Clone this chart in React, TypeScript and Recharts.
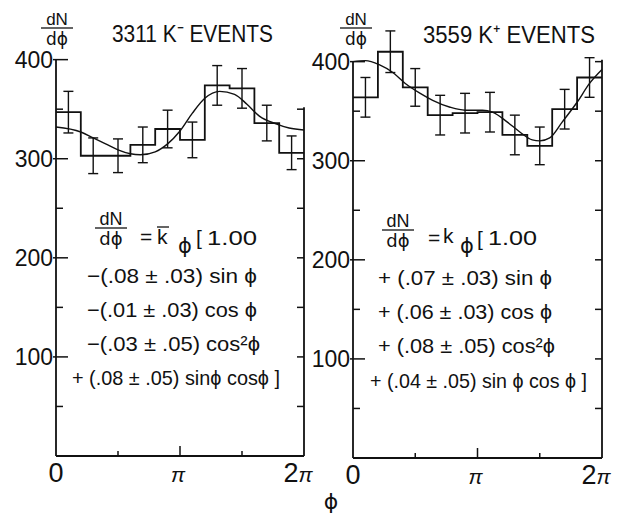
import React from "react";
import {
  ComposedChart,
  Line,
  Scatter,
  ErrorBar,
  XAxis,
  YAxis,
  ReferenceLine,
} from "recharts";

const TWO_PI = 2 * Math.PI;
const FONT = "'Liberation Sans', Arial, sans-serif";
const PHI_FONT = "'DejaVu Sans', sans-serif";
const INK = "#111";

// bin edges and centres, as fractions of 2π (10 equal bins)
const binEdges = [0, 0.1, 0.2, 0.3, 0.4, 0.5, 0.6, 0.7, 0.8, 0.9, 1];
const binCenters = [0.05, 0.15, 0.25, 0.35, 0.45, 0.55, 0.65, 0.75, 0.85, 0.95];

// K- panel
const kMinusCounts = [347, 303, 303, 314, 330, 319, 374, 371, 336, 306];
const kMinusErrors = [21, 18, 17, 18, 19, 18, 20, 20, 18, 17];
const kMinusCurveFrac = [0, 0.1, 0.15, 0.2, 0.25, 0.3, 0.34, 0.4, 0.45, 0.5, 0.55, 0.6, 0.66, 0.72, 0.77, 0.82, 0.89, 0.94, 1];
const kMinusCurve = [332, 327, 321, 315, 309, 305, 304, 307, 315, 328, 346, 361, 368, 365, 355, 343, 335, 331, 329];

// K+ panel
const kPlusCounts = [364, 410, 374, 346, 348, 349, 326, 315, 352, 384];
const kPlusErrors = [20, 21, 19, 20, 20, 20, 20, 19, 20, 20];
const kPlusCurveFrac = [0, 0.05, 0.105, 0.16, 0.21, 0.27, 0.32, 0.39, 0.45, 0.52, 0.56, 0.62, 0.67, 0.72, 0.75, 0.79, 0.84, 0.9, 0.95, 1];
const kPlusCurve = [400, 401, 397, 389, 378, 368, 361, 354, 351, 351, 349, 339, 329, 321, 320, 323, 339, 359, 378, 392];

const yTicks = [50, 100, 150, 200, 250, 300, 350, 400];
const xTicks = [0, Math.PI / 2, Math.PI, (3 * Math.PI) / 2, TWO_PI];

function LeftTick(props: any) {
  const { x, y, payload } = props;
  const v = payload.value;
  const major = v % 100 === 0;
  return (
    <g>
      {major && (
        <text x={x - 3} y={y + 8} textAnchor="end" fontSize={23} fontFamily={FONT} fill={INK}>
          {v}
        </text>
      )}
      <line x1={major ? x - 3 : x} x2={major ? x + 12 : x + 7} y1={y} y2={y} stroke={INK} strokeWidth={1.5} />
    </g>
  );
}

function makeRightTick(maxV: number) {
  return (props: any) => {
    const { x, y, payload } = props;
    if (payload.value > maxV) return <g />;
    return <line x1={x - 7} x2={x} y1={y} y2={y} stroke={INK} strokeWidth={1.5} />;
  };
}

function BottomTick(props: any) {
  const { x, y, payload } = props;
  const idx = xTicks.findIndex((t) => Math.abs(t - payload.value) < 1e-6);
  const len = idx === 1 || idx === 3 ? 5 : idx === 2 ? 10 : 0;
  return (
    <g fill={INK} fontFamily={FONT}>
      {len > 0 && <line x1={x} x2={x} y1={y} y2={y - len} stroke={INK} strokeWidth={1.5} />}
      {idx === 0 && (
        <text x={x} y={y + 26} textAnchor="middle" fontSize={27}>0</text>
      )}
      {idx === 2 && (
        <text x={x - 2} y={y + 26} textAnchor="middle" fontSize={21} fontStyle="italic">π</text>
      )}
      {idx === 4 && (
        <text x={x - 6} y={y + 26} textAnchor="middle" fontSize={27}>
          2<tspan fontSize={21} fontStyle="italic">π</tspan>
        </text>
      )}
    </g>
  );
}

interface PanelProps {
  left: number;
  width: number;
  marginTop: number;
  marginBottom: number;
  marginRight: number;
  rightAxisWidth: number;
  counts: number[];
  errors: number[];
  curveFrac: number[];
  curve: number[];
  rightFrameTop: number;
}

function Panel(p: PanelProps) {
  const steps = binEdges.map((e, i) => ({ phi: e * TWO_PI, n: p.counts[Math.min(i, p.counts.length - 1)] }));
  const points = binCenters.map((c, i) => ({ phi: c * TWO_PI, n: p.counts[i], err: p.errors[i] }));
  const fit = p.curveFrac.map((f, i) => ({ phi: f * TWO_PI, v: p.curve[i] }));

  return (
    <div style={{ position: "absolute", left: p.left, top: 0 }}>
      <ComposedChart
        width={p.width}
        height={516}
        margin={{ top: p.marginTop, right: p.marginRight, bottom: p.marginBottom, left: 0 }}
      >
        <XAxis
          type="number"
          dataKey="phi"
          domain={[0, TWO_PI]}
          ticks={xTicks}
          interval={0}
          height={30}
          tickSize={0}
          tickMargin={0}
          tickLine={false}
          axisLine={{ stroke: INK, strokeWidth: 1.8 }}
          tick={<BottomTick />}
          allowDataOverflow
        />
        <YAxis
          yAxisId="l"
          type="number"
          domain={[0, 440]}
          ticks={yTicks}
          interval={0}
          width={56}
          tickSize={0}
          tickMargin={0}
          tickLine={false}
          axisLine={false}
          tick={<LeftTick />}
          allowDataOverflow
        />
        <YAxis
          yAxisId="r"
          orientation="right"
          type="number"
          domain={[0, 440]}
          ticks={yTicks}
          interval={0}
          width={p.rightAxisWidth}
          tickSize={0}
          tickMargin={0}
          tickLine={false}
          axisLine={false}
          tick={makeRightTick(p.rightFrameTop)}
          allowDataOverflow
        />
        <ReferenceLine
          yAxisId="l"
          segment={[{ x: 0, y: 0 }, { x: 0, y: 400 }]}
          stroke={INK}
          strokeWidth={1.8}
        />
        <ReferenceLine
          yAxisId="l"
          segment={[{ x: TWO_PI, y: 0 }, { x: TWO_PI, y: p.rightFrameTop + 2 }]}
          stroke={INK}
          strokeWidth={1.8}
        />
        <Line
          yAxisId="l"
          data={steps}
          dataKey="n"
          type="stepAfter"
          stroke={INK}
          strokeWidth={1.8}
          dot={false}
          isAnimationActive={false}
        />
        <Line
          yAxisId="l"
          data={fit}
          dataKey="v"
          type="monotone"
          stroke={INK}
          strokeWidth={1.4}
          dot={false}
          isAnimationActive={false}
        />
        <Scatter
          yAxisId="l"
          data={points}
          dataKey="n"
          shape={() => <g />}
          isAnimationActive={false}
        >
          <ErrorBar dataKey="err" direction="y" width={5} stroke={INK} strokeWidth={1.4} />
        </Scatter>
      </ComposedChart>
    </div>
  );
}

function Fraction({ cx, y, size }: { cx: number; y: number; size: number }) {
  return (
    <g fill={INK} fontSize={size}>
      <text x={cx} y={y} textAnchor="middle" fontFamily={FONT}>dN</text>
      <line x1={cx - 16} x2={cx + 16} y1={y + 3} y2={y + 3} stroke={INK} strokeWidth={1.3} />
      <text x={cx} y={y + 20} textAnchor="middle" fontFamily={PHI_FONT}>dϕ</text>
    </g>
  );
}

function Overlay() {
  const t = { fontFamily: FONT, fill: INK, fontSize: 21 } as const;
  const ph = { fontFamily: PHI_FONT, fill: INK, fontSize: 21 } as const;
  return (
    <svg width={618} height={516} style={{ position: "absolute", left: 0, top: 0, pointerEvents: "none" }}>
      {/* titles */}
      <text x={112} y={42} fontSize={24} fontFamily={FONT} fill={INK} textLength={161} lengthAdjust="spacingAndGlyphs">
        3311 K⁻ EVENTS
      </text>
      <text x={423} y={43} fontSize={24} fontFamily={FONT} fill={INK} textLength={172} lengthAdjust="spacingAndGlyphs">
        3559 K⁺ EVENTS
      </text>

      {/* y labels */}
      <Fraction cx={57} y={25} size={17} />
      <Fraction cx={356} y={25} size={17} />

      {/* K- formula */}
      <Fraction cx={111} y={225} size={18} />
      <text {...t} x={140} y={244}>=</text>
      <text {...t} x={157} y={244}>k</text>
      <line x1={157} x2={169} y1={227} y2={227} stroke={INK} strokeWidth={1.3} />
      <text {...ph} x={178} y={253}>ϕ</text>
      <text {...t} x={196} y={245}>[</text>
      <text {...t} x={207} y={245} textLength={50} lengthAdjust="spacingAndGlyphs">1.00</text>
      <text {...t} x={87} y={283} textLength={170} lengthAdjust="spacingAndGlyphs">−(.08 ± .03) sin ϕ</text>
      <text {...t} x={87} y={317} textLength={170} lengthAdjust="spacingAndGlyphs">−(.01 ± .03) cos ϕ</text>
      <text {...t} x={87} y={351} textLength={173} lengthAdjust="spacingAndGlyphs">−(.03 ± .05) cos²ϕ</text>
      <text {...t} x={72} y={385} textLength={208} lengthAdjust="spacingAndGlyphs">+ (.08 ± .05) sinϕ cosϕ ]</text>

      {/* K+ formula */}
      <Fraction cx={398} y={227} size={18} />
      <text {...t} x={428} y={245}>=</text>
      <text {...t} x={443} y={243}>k</text>
      <text {...ph} x={460} y={253}>ϕ</text>
      <text {...t} x={477} y={246}>[</text>
      <text {...t} x={488} y={245} textLength={49} lengthAdjust="spacingAndGlyphs">1.00</text>
      <text {...t} x={378} y={285} textLength={174} lengthAdjust="spacingAndGlyphs">+ (.07 ± .03) sin ϕ</text>
      <text {...t} x={378} y={319} textLength={174} lengthAdjust="spacingAndGlyphs">+ (.06 ± .03) cos ϕ</text>
      <text {...t} x={378} y={353} textLength={177} lengthAdjust="spacingAndGlyphs">+ (.08 ± .05) cos²ϕ</text>
      <text {...t} x={370} y={388} textLength={217} lengthAdjust="spacingAndGlyphs">+ (.04 ± .05) sin ϕ cos ϕ ]</text>

      {/* x axis title */}
      <text x={331} y={509} textAnchor="middle" fontSize={22} fontFamily={PHI_FONT} fill={INK}>ϕ</text>
    </svg>
  );
}

export default function App() {
  return (
    <div style={{ position: "absolute", left: 0, top: 0, width: 618, height: 516, background: "#fff" }}>
      <Panel
        left={297}
        width={321}
        marginTop={22}
        marginBottom={28}
        marginRight={0}
        rightAxisWidth={16}
        counts={kPlusCounts}
        errors={kPlusErrors}
        curveFrac={kPlusCurveFrac}
        curve={kPlusCurve}
        rightFrameTop={400}
      />
      <Panel
        left={0}
        width={322}
        marginTop={20}
        marginBottom={30}
        marginRight={12}
        rightAxisWidth={6}
        counts={kMinusCounts}
        errors={kMinusErrors}
        curveFrac={kMinusCurveFrac}
        curve={kMinusCurve}
        rightFrameTop={350}
      />
      <Overlay />
    </div>
  );
}
